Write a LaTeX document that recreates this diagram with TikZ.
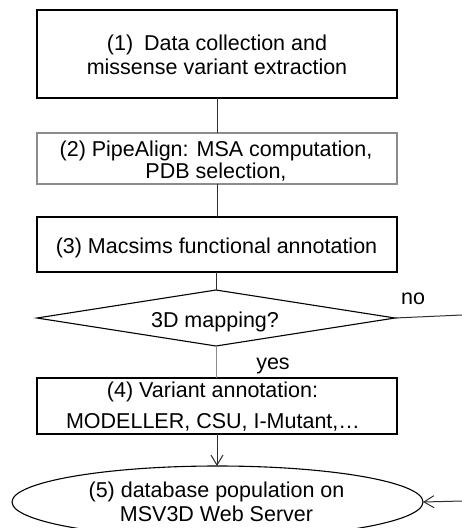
\documentclass[tikz,border=0pt]{standalone}
\usepackage{fontspec}
\setmainfont{Liberation Sans}
\usetikzlibrary{shapes.geometric,arrows.meta}
\definecolor{linegray}{HTML}{2E2E2E}
\definecolor{softgray}{HTML}{8C8C8C}
\begin{document}
\begin{tikzpicture}[x=1pt,y=-1pt,
  every node/.style={inner sep=0pt,outer sep=0pt},
  txt/.style={anchor=base,font=\fontsize{21.5}{24}\selectfont,text=black},
  boxA/.style={draw=black,line width=1.1pt,rectangle,minimum width=360pt},
  boxG/.style={draw=softgray,line width=1.1pt,rectangle,minimum width=360pt},
  conn/.style={draw=linegray,line width=1pt},
  conng/.style={draw=softgray,line width=1pt},
  arr/.style={draw=linegray,line width=1pt,-{Straight Barb[length=10pt,width=12pt]}}]
\useasboundingbox (0,0) rectangle (462,528);
% boxes
\node[boxA,minimum height=88pt] (b1) at (217,54) {};
\node[boxG,minimum height=51pt] (b2) at (217,158.5) {};
\node[boxA,minimum height=55pt] (b3) at (217,244.5) {};
\node[draw=black,line width=1.1pt,shape=diamond,minimum width=358pt,minimum height=56pt] (d) at (216,318) {};
\node[boxA,minimum height=56pt] (b4) at (217,406) {};
\node[draw=black,line width=1.1pt,shape=ellipse,minimum width=411pt,minimum height=72pt] (e) at (217.5,502) {};
\coordinate (noend) at (462,315);
\coordinate (inend) at (462,501);
% texts
\node[txt] (t1a) at (217,50) {(1)\hspace{11pt}Data collection and};
\node[txt] (t1b) at (217,74) {missense variant extraction};
\node[txt] (t2a) at (216,156) {(2) PipeAlign: MSA computation,};
\node[txt] (t2b) at (216,178) {PDB selection,};
\node[txt] (t3) at (216.5,253) {(3) Macsims functional annotation};
\node[txt] (td) at (215,327) {3D mapping?};
\node[txt] (tno) at (413,304) {no};
\node[txt] (tyes) at (273,369) {yes};
\node[txt] (t4a) at (212.5,397) {(4) Variant annotation:};
\node[txt] (t4b) at (213,428) {MODELLER, CSU, I-Mutant,\ldots};
\node[txt] (t5a) at (216.5,497) {(5) database population on};
\node[txt] (t5b) at (216.5,521) {MSV3D Web Server};
% connectors
\draw[conn] (b1.south) -- (b2.north);
\draw[conn] (b2.south) -- (b3.north);
\draw[conn] (b3.south -| d.north) -- (d.north);
\draw[conng] (d.south) -- (d.south |- b4.north);
\draw[conn] (d.east) -- (noend);
\draw[arr] (b4.south) -- (b4.south |- e.north);
\draw[arr] (inend) -- (e.east);
\end{tikzpicture}
\end{document}
